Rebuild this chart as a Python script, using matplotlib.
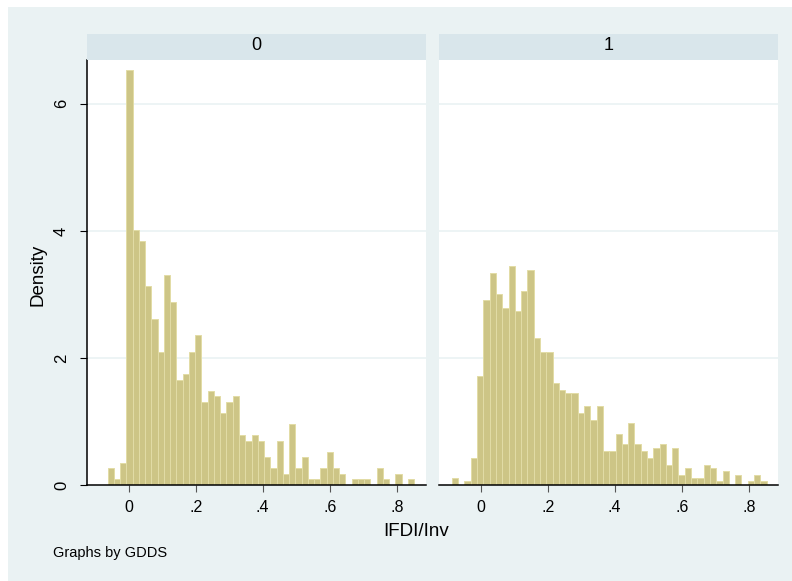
import numpy as np
import matplotlib.pyplot as plt
from matplotlib.patches import Rectangle

plt.rcParams['font.family'] = ['Liberation Sans', 'DejaVu Sans']

# Densidades (histograma por grupo GDDS)
dens_0 = [0.27, 0.09, 0.35, 6.54, 4.01, 3.84, 3.14, 2.62, 2.09, 3.31,
          2.88, 1.65, 1.75, 2.09, 2.36, 1.31, 1.48, 1.40, 1.13, 1.31,
          1.40, 0.79, 0.70, 0.79, 0.70, 0.44, 0.27, 0.70, 0.17, 0.96,
          0.27, 0.44, 0.09, 0.09, 0.27, 0.52, 0.27, 0.17, 0.0, 0.09,
          0.09, 0.09, 0.0, 0.27, 0.09, 0.0, 0.17, 0.0, 0.09]
dens_1 = [0.115, 0.0, 0.06, 0.43, 1.72, 2.91, 3.34, 3.01, 2.79, 3.44,
          2.74, 3.06, 3.39, 2.31, 2.10, 2.10, 1.61, 1.50, 1.45, 1.45,
          1.13, 1.24, 1.02, 1.24, 0.54, 0.54, 0.81, 0.64, 0.97, 0.64,
          0.54, 0.43, 0.59, 0.64, 0.32, 0.59, 0.16, 0.27, 0.11, 0.11,
          0.32, 0.27, 0.06, 0.22, 0.0, 0.16, 0.0, 0.06, 0.16, 0.06]

# limites de los bins de cada grupo
rango_0 = (-0.0625, 0.8516)
rango_1 = (-0.0857, 0.853)

grupos = ['0', '1']
xticks = [0, 0.2, 0.4, 0.6, 0.8]
xlabels = ['0', '.2', '.4', '.6', '.8']
yticks = [0, 2, 4, 6]

fondo = '#eaf2f3'
franja = '#d9e6eb'
barra = '#cdc586'
borde = '#e2dca6'

W, H = 792, 581
fig = plt.figure(figsize=(W / 100, H / 100), dpi=100)
fig.patch.set_facecolor('white')
fig.patches.append(Rectangle((8 / W, 0), 1, (H - 7) / H, transform=fig.transFigure,
                             facecolor=fondo, edgecolor='none', zorder=-10))

bottom = (H - 485) / H
height = 425 / H
lefts = [87 / W, 439 / W]
width = 338.7 / W

for i, (dens, rango) in enumerate([(dens_0, rango_0), (dens_1, rango_1)]):
    ax = fig.add_axes([lefts[i], bottom, width, height])
    ax.set_facecolor('white')
    edges = np.linspace(rango[0], rango[1], len(dens) + 1)
    ax.bar(edges[:-1], dens, width=np.diff(edges), align='edge',
           color=barra, edgecolor=borde, linewidth=0.7, zorder=2)
    for y in yticks[1:]:
        ax.axhline(y, color=fondo, linewidth=1.2, zorder=1)
    ax.set_xlim(-0.124, 0.886)
    ax.set_ylim(0, 6.69)
    ax.set_xticks(xticks)
    ax.set_xticklabels(xlabels, fontsize=11.5)
    ax.tick_params(axis='x', length=5, width=0.8, color='#555555', pad=6)
    for s in ['top', 'right']:
        ax.spines[s].set_visible(False)
    ax.spines['bottom'].set_linewidth(1.1)
    if i == 0:
        ax.set_yticks(yticks)
        ax.set_yticklabels([str(v) for v in yticks], fontsize=12, rotation=90, va='center')
        ax.tick_params(axis='y', length=5, width=0.8, pad=8)
        ax.spines['left'].set_linewidth(1.1)
    else:
        ax.set_yticks([])
        ax.spines['left'].set_visible(False)

    # franja del titulo del panel
    fig.patches.append(Rectangle((lefts[i], (H - 59.5) / H), width, 25 / H,
                                 transform=fig.transFigure, facecolor=franja,
                                 edgecolor='none'))
    fig.text(lefts[i] + width / 2, (H - 46) / H, grupos[i], ha='center', va='center',
             fontsize=13)

fig.text(416 / W, (H - 532) / H, 'IFDI/Inv', ha='center', va='center', fontsize=13.5)
fig.text(38 / W, (H - 275) / H, 'Density', ha='center', va='center', fontsize=13.5,
         rotation=90)
fig.text(53 / W, (H - 553) / H, 'Graphs by GDDS', ha='left', va='center', fontsize=10.5)

fig.savefig('out.png', dpi=100)
